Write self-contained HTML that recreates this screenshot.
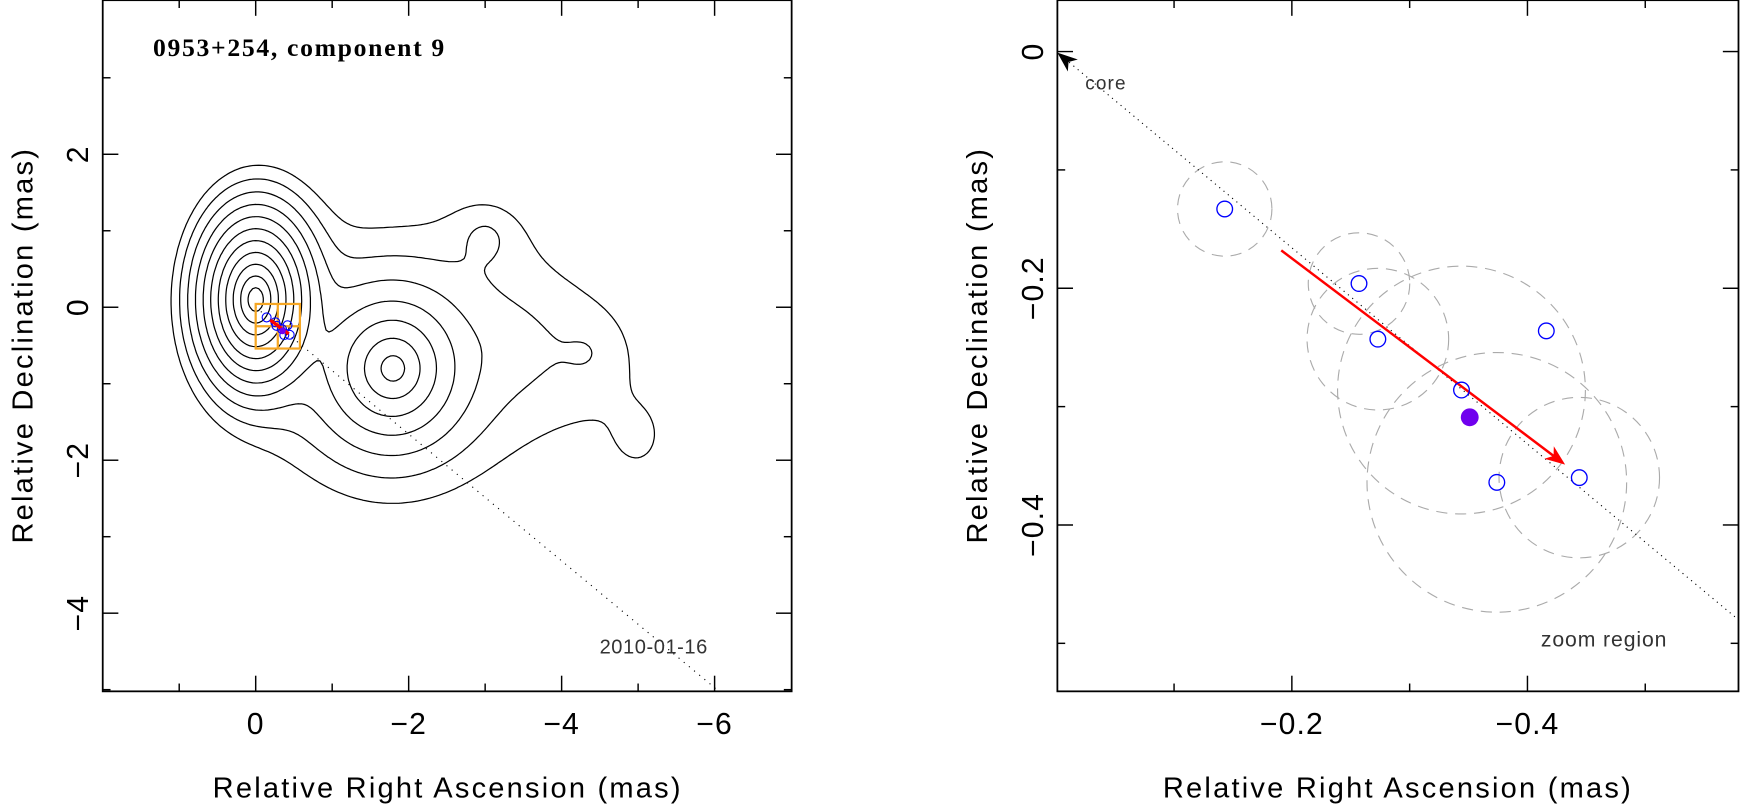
<!DOCTYPE html>
<html><head><meta charset="utf-8"><style>
html,body{margin:0;padding:0;background:#fff;overflow:hidden;}
svg{display:block;}
</style></head><body>
<svg id="chart" width="1753" height="811" viewBox="0 0 1570 726" xmlns="http://www.w3.org/2000/svg" font-family="Liberation Sans, sans-serif">
<g id="left"></g>
<g id="right"></g>
</svg>
<script>
// ---------- data ----------
const compRA   = [0.0,  -1.8, -1.6, -3.0, -4.3, -5.0, -3.3, -0.2];
const compDec  = [0.1,  -0.8, -0.8,  0.9, -0.6, -1.7, -0.5,  0.2];
const compFlux = [2062,  100,  9,    2.2,  1.4,  1.3,  2.2,  8];
const compSx   = [0.14, 0.27, 0.65, 0.3,  0.5,  0.35, 0.9,  0.3];
const compSy   = [0.22, 0.30, 0.65, 0.3,  0.5,  0.45, 0.9,  0.45];
const contourLevels = [1,2,4,8,16,32,64,128,256,512,1024];
const posRA  = [-0.143,-0.257,-0.273,-0.344,-0.416,-0.374,-0.444];
const posDec = [-0.133,-0.196,-0.243,-0.286,-0.236,-0.364,-0.360];
const posErr = [0.040, 0.043, 0.060, 0.105, 0, 0.110, 0.068];
const meanRA = [-0.351], meanDec = [-0.309];
const arrowRA = [-0.191,-0.432], arrowDec = [-0.168,-0.349];
const jetRA = [0,-6.2], jetDec = [0,-5.14];
const leftXTicks = [2,1,0,-1,-2,-3,-4,-5,-6,-7];
const leftXLabels = ["0","−2","−4","−6"], leftXLabelVals=[0,-2,-4,-6];
const leftYTicks = [4,3,2,1,0,-1,-2,-3,-4,-5];
const leftYLabels = ["2","0","−2","−4"], leftYLabelVals=[2,0,-2,-4];
const rightXTicks = [0,-0.1,-0.2,-0.3,-0.4,-0.5];
const rightXLabels = ["−0.2","−0.4"], rightXLabelVals=[-0.2,-0.4];
const rightYTicks = [0,-0.1,-0.2,-0.3,-0.4,-0.5];
const rightYLabels = ["0","−0.2","−0.4"], rightYLabelVals=[0,-0.2,-0.4];
const zoomBox = [0,-0.578,0.043,-0.54];

// ---------- helpers ----------
const NS="http://www.w3.org/2000/svg";
function mk(parent,tag,attrs,txt){const e=document.createElementNS(NS,tag);for(const k in attrs)e.setAttribute(k,attrs[k]);if(txt!==undefined)e.textContent=txt;parent.appendChild(e);return e;}
const L=document.getElementById('left'), R=document.getElementById('right');
const lx0=92,lx1=709,ly0=0,ly1=619;
const LX=x=>229-68.5*x, LY=y=>275-68.5*y;
const rx0=947,rx1=1557,ry0=0,ry1=619;
const RX=x=>946-1055*x, RY=y=>46-1060*y;

// ---------- left: contours via marching squares ----------
function field(x,y){let s=0;for(let i=0;i<compRA.length;i++){const dx=(x-compRA[i])/compSx[i],dy=(y-compDec[i])/compSy[i];s+=compFlux[i]*Math.exp(-Math.sqrt(dx*dx+dy*dy));}return s;}
const step=0.04, gx=[],gy=[];
for(let x=2;x>=-7;x-=step)gx.push(x);
for(let y=4;y>=-5;y-=step)gy.push(y);
const F=gy.map(y=>gx.map(x=>field(x,y)));
const clipL=mk(L,'clipPath',{id:'clipL'});
mk(clipL,'rect',{x:lx0,y:ly0,width:lx1-lx0,height:ly1-ly0});
const cg=mk(L,'g',{'clip-path':'url(#clipL)'});


contourLevels.forEach(lev=>{
  let d='';
  for(let j=0;j<gy.length-1;j++)for(let i=0;i<gx.length-1;i++){
    const v=[F[j][i],F[j][i+1],F[j+1][i+1],F[j+1][i]];
    const p=[[gx[i],gy[j]],[gx[i+1],gy[j]],[gx[i+1],gy[j+1]],[gx[i],gy[j+1]]];
    const pts=[];
    for(let e=0;e<4;e++){const a=v[e],b=v[(e+1)%4];if((a<lev)!==(b<lev)){const t=(lev-a)/(b-a);const A=p[e],B=p[(e+1)%4];pts.push([A[0]+t*(B[0]-A[0]),A[1]+t*(B[1]-A[1])]);}}
    for(let k=0;k+1<pts.length;k+=2)d+='M'+LX(pts[k][0]).toFixed(1)+' '+LY(pts[k][1]).toFixed(1)+'L'+LX(pts[k+1][0]).toFixed(1)+' '+LY(pts[k+1][1]).toFixed(1);
  }
  const pa=mk(cg,'path',{d:d,fill:'none',stroke:'#000','stroke-width':1.1,'stroke-linecap':'round'});
  
  
});
const jl=mk(cg,'line',{x1:LX(jetRA[0]),y1:LY(jetDec[0]),x2:LX(jetRA[1]),y2:LY(jetDec[1]),stroke:'#000','stroke-width':1,'stroke-dasharray':'1 5'});


const zb=mk(L,'g',{stroke:'#f5a623',fill:'none','stroke-width':2});


mk(zb,'rect',{x:LX(zoomBox[0]),y:LY(zoomBox[2]),width:LX(zoomBox[1])-LX(zoomBox[0]),height:LY(zoomBox[3])-LY(zoomBox[2])});
mk(zb,'line',{x1:(LX(zoomBox[0])+LX(zoomBox[1]))/2,x2:(LX(zoomBox[0])+LX(zoomBox[1]))/2,y1:LY(zoomBox[2]),y2:LY(zoomBox[3])});
mk(zb,'line',{y1:(LY(zoomBox[2])+LY(zoomBox[3]))/2,y2:(LY(zoomBox[2])+LY(zoomBox[3]))/2,x1:LX(zoomBox[0]),x2:LX(zoomBox[1])});
posRA.forEach((x,i)=>{const c=mk(L,'circle',{cx:LX(x),cy:LY(posDec[i]),r:4,fill:'none',stroke:'#00f','stroke-width':1});});
const ma=mk(L,'line',{x1:LX(arrowRA[0]),y1:LY(arrowDec[0]),x2:LX(arrowRA[1]),y2:LY(arrowDec[1]),stroke:'#f00','stroke-width':3});


const md=mk(L,'circle',{cx:LX(meanRA[0]),cy:LY(meanDec[0]),r:3,fill:'#7000ee'});



// ---------- axes drawing ----------
function frame(g,x0,y0,x1,y1,xt,yt,X,Y,majX,majY){
  const f=mk(g,'rect',{x:x0,y:y0,width:x1-x0,height:y1-y0,fill:'none',stroke:'#000','stroke-width':1.6});
  
  
  xt.forEach(v=>{const px=X(v);if(px<=x0+1||px>=x1-1)return;const len=majX(v)?14:7;
    mk(g,'line',{x1:px,x2:px,y1:y1,y2:y1-len,stroke:'#000','stroke-width':1.3});
    mk(g,'line',{x1:px,x2:px,y1:y0,y2:y0+len,stroke:'#000','stroke-width':1.3});});
  yt.forEach(v=>{const py=Y(v);if(py<=y0+1||py>=y1-1)return;const len=majY(v)?14:7;
    mk(g,'line',{x1:x0,x2:x0+len,y1:py,y2:py,stroke:'#000','stroke-width':1.3});
    mk(g,'line',{x1:x1,x2:x1-len,y1:py,y2:py,stroke:'#000','stroke-width':1.3});});
}
const isEven=v=>Math.abs(v/2-Math.round(v/2))<1e-6;
const isMajR=v=>Math.abs(v*5-Math.round(v*5))<1e-6;
frame(L,lx0,ly0,lx1,ly1,leftXTicks,leftYTicks,LX,LY,isEven,isEven);
leftXLabelVals.forEach((v,i)=>{const t=mk(L,'text',{x:LX(v),y:657,'font-size':27,'text-anchor':'middle','letter-spacing':1},leftXLabels[i]);});
leftYLabelVals.forEach((v,i)=>{const t=mk(L,'text',{x:0,y:0,'font-size':27,'text-anchor':'middle','letter-spacing':1,transform:`translate(79 ${LY(v)}) rotate(-90)`},leftYLabels[i]);});

// ---------- right panel ----------
const clipR=mk(R,'clipPath',{id:'clipR'});
mk(clipR,'rect',{x:rx0,y:ry0,width:rx1-rx0,height:ry1-ry0});
const rg=mk(R,'g',{'clip-path':'url(#clipR)'});
posRA.forEach((x,i)=>{if(posErr[i]<=0)return;const c=mk(rg,'circle',{cx:RX(x),cy:RY(posDec[i]),r:posErr[i]*1057,fill:'none',stroke:'#aaa','stroke-width':1,'stroke-dasharray':'10 7'});});
const jr=mk(rg,'line',{x1:RX(jetRA[0]),y1:RY(jetDec[0]),x2:RX(jetRA[1]),y2:RY(jetDec[1]),stroke:'#000','stroke-width':1,'stroke-dasharray':'1 4'});


(function(){const x=RX(0),y=RY(0);const ang=Math.atan2(RY(jetDec[1])-y,RX(jetRA[1])-x);
  const a=mk(rg,'path',{d:'M0 0L18 -7L13 0L18 7Z',fill:'#000',transform:`translate(${x+1} ${y+1}) rotate(${ang*180/Math.PI})`});
  })();
(function(){const x1=RX(arrowRA[0]),y1=RY(arrowDec[0]),x2=RX(arrowRA[1]),y2=RY(arrowDec[1]);const ang=Math.atan2(y2-y1,x2-x1)*180/Math.PI;
  const g=mk(rg,'g',{});
  mk(g,'line',{x1:x1,y1:y1,x2:x2-8*Math.cos(ang*Math.PI/180),y2:y2-8*Math.sin(ang*Math.PI/180),stroke:'#f00','stroke-width':2.2});
  mk(g,'path',{d:'M0 0L-18 -7L-13 0L-18 7Z',fill:'#f00',transform:`translate(${x2} ${y2}) rotate(${ang})`});})();
posRA.forEach((x,i)=>{const c=mk(rg,'circle',{cx:RX(x),cy:RY(posDec[i]),r:7,fill:'none',stroke:'#00f','stroke-width':1.2});});
const mdr=mk(rg,'circle',{cx:RX(meanRA[0]),cy:RY(meanDec[0]),r:8,fill:'#7000ee'});


frame(R,rx0,ry0,rx1,ry1,rightXTicks,rightYTicks,RX,RY,isMajR,isMajR);
rightXLabelVals.forEach((v,i)=>{const t=mk(R,'text',{x:RX(v),y:657,'font-size':27,'text-anchor':'middle','letter-spacing':1},rightXLabels[i]);});
rightYLabelVals.forEach((v,i)=>{const t=mk(R,'text',{x:0,y:0,'font-size':27,'text-anchor':'middle','letter-spacing':1,transform:`translate(934 ${RY(v)}) rotate(-90)`},rightYLabels[i]);});
</script>
<script>
(function(){const s=document.getElementById('chart');const NS="http://www.w3.org/2000/svg";
function t(x,y,size,txt,name,extra){const e=document.createElementNS(NS,'text');e.setAttribute('x',x);e.setAttribute('y',y);e.setAttribute('font-size',size);for(const k in (extra||{}))e.setAttribute(k,extra[k]);e.textContent=txt;


s.appendChild(e);}
t(137,50,23,'0953+254, component 9','map-title',{style:'font-family:"Liberation Serif",serif;font-weight:bold','letter-spacing':'1.5'});
t(537,585,18,'2010-01-16','epoch-label',{fill:'#333','letter-spacing':'0.5'});
t(972,80,17,'core','core-label',{fill:'#333','letter-spacing':'1'});
t(1380,579,19,'zoom region','zoom-region-label',{fill:'#333','letter-spacing':'0.8'});
t(401,714,26,'Relative Right Ascension (mas)','left-x-axis-title',{'text-anchor':'middle','letter-spacing':'2'});
t(1252,714,26,'Relative Right Ascension (mas)','right-x-axis-title',{'text-anchor':'middle','letter-spacing':'2'});
t(0,0,26,'Relative Declination (mas)','left-y-axis-title',{'text-anchor':'middle','letter-spacing':'2',transform:'translate(29 309) rotate(-90)'});
t(0,0,26,'Relative Declination (mas)','right-y-axis-title',{'text-anchor':'middle','letter-spacing':'2',transform:'translate(884 309) rotate(-90)'});
})();
</script>
</body></html>
